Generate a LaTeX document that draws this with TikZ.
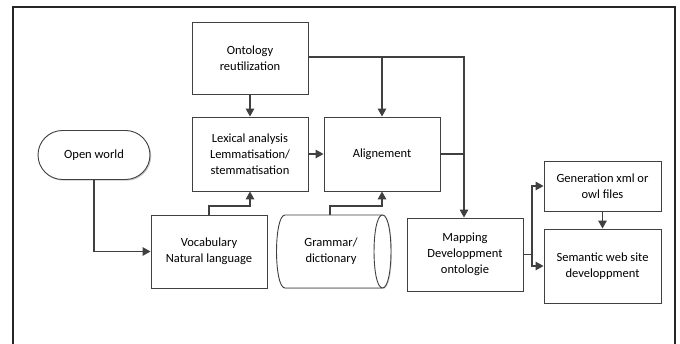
\documentclass[tikz,border=0pt]{standalone}
\usepackage{fontspec}
\setmainfont{Carlito}
\usetikzlibrary{arrows.meta,shapes.misc,shadows}
\definecolor{ln}{HTML}{404040}
\begin{document}
\begin{tikzpicture}[x=1pt,y=-1pt,
  shd/.style={drop shadow={shadow xshift=1.2pt,shadow yshift=-1.2pt,fill=black!22,opacity=1}},
  boxx/.style={draw=ln,line width=0.9pt,fill=white,shd,inner sep=2pt,align=center,
    font=\fontsize{12.5}{16}\selectfont},
  conn/.style={draw=ln,line width=1.4pt,-{Triangle[length=8pt,width=8.5pt]}},
  plain/.style={draw=ln,line width=1.4pt}]
\useasboundingbox (0,0) rectangle (680,344);
\fill[white] (0,0) rectangle (680,344);
\draw[line width=1.1pt,black!85] (13,346) -- (13,7) -- (675,7) -- (675,346);

\node[boxx,minimum width=116pt,minimum height=72pt] (onto) at (250,58) {Ontology\\reutilization};
\node[boxx,minimum width=116pt,minimum height=74pt] (lex) at (250,154) {Lexical analysis\\Lemmatisation/\\stemmatisation};
\node[boxx,minimum width=116pt,minimum height=74pt] (align) at (382,154) {Alignement};
\node[boxx,rounded rectangle,minimum width=116pt,minimum height=49pt] (open) at (94,155) {Open world};
\node[boxx,minimum width=116pt,minimum height=73pt] (vocab) at (209,251.5) {Vocabulary\\Natural language};
\node[boxx,minimum width=116pt,minimum height=73pt] (map) at (465,254.5) {Mapping\\Developpment\\ontologie};
\node[boxx,minimum width=117pt,minimum height=50pt] (gen) at (602.5,186) {Generation xml or\\owl files};
\node[boxx,minimum width=117pt,minimum height=74pt] (sem) at (602.5,266) {Semantic web site\\developpment};

% Grammar/dictionary storage shape
\path[draw=ln,line width=0.9pt,fill=white,drop shadow={shadow xshift=1pt,shadow yshift=-1pt,fill=black!15,opacity=1}] (285,215) -- (382.5,215)
  .. controls (393.8,215) and (393.8,288) .. (382.5,288) -- (285,288)
  .. controls (273.7,288) and (273.7,215) .. cycle;
\draw[ln,line width=0.9pt] (382.5,215) .. controls (371.2,215) and (371.2,288) .. (382.5,288);
\node[align=center,font=\fontsize{12.5}{16}\selectfont,minimum width=98pt,minimum height=73pt,inner sep=0pt] (gram) at (331,251.5) {Grammar/\\dictionary};
\coordinate (gtop) at (330,215);

% connectors
\draw[conn] (onto.south) -- (lex.north);
\coordinate (j1) at (382,57);
\coordinate (j2) at (464,57);
\draw[conn] (onto.east |- j1) -- (j2) -- (j2 |- map.north);
\draw[conn] (j1) -- (align.north);
\draw[conn] (lex.east) -- (align.west);
\draw[plain] (align.east) -- (align.east -| j2);
\draw[conn] (open.south) |- (vocab.west);
\coordinate (v1) at (209,206);
\draw[conn] (vocab.north) -- (v1) -| (lex.south);
\coordinate (g1) at (330,206);
\draw[conn] (gtop) -- (g1) -| (align.south);
\coordinate (m1) at (532,254.5);
\draw[plain] (map.east) -- (m1);
\draw[conn] (m1) |- (gen.west);
\draw[conn] (m1) |- (sem.west);
\draw[conn] (gen.south) -- (sem.north);
\end{tikzpicture}
\end{document}
